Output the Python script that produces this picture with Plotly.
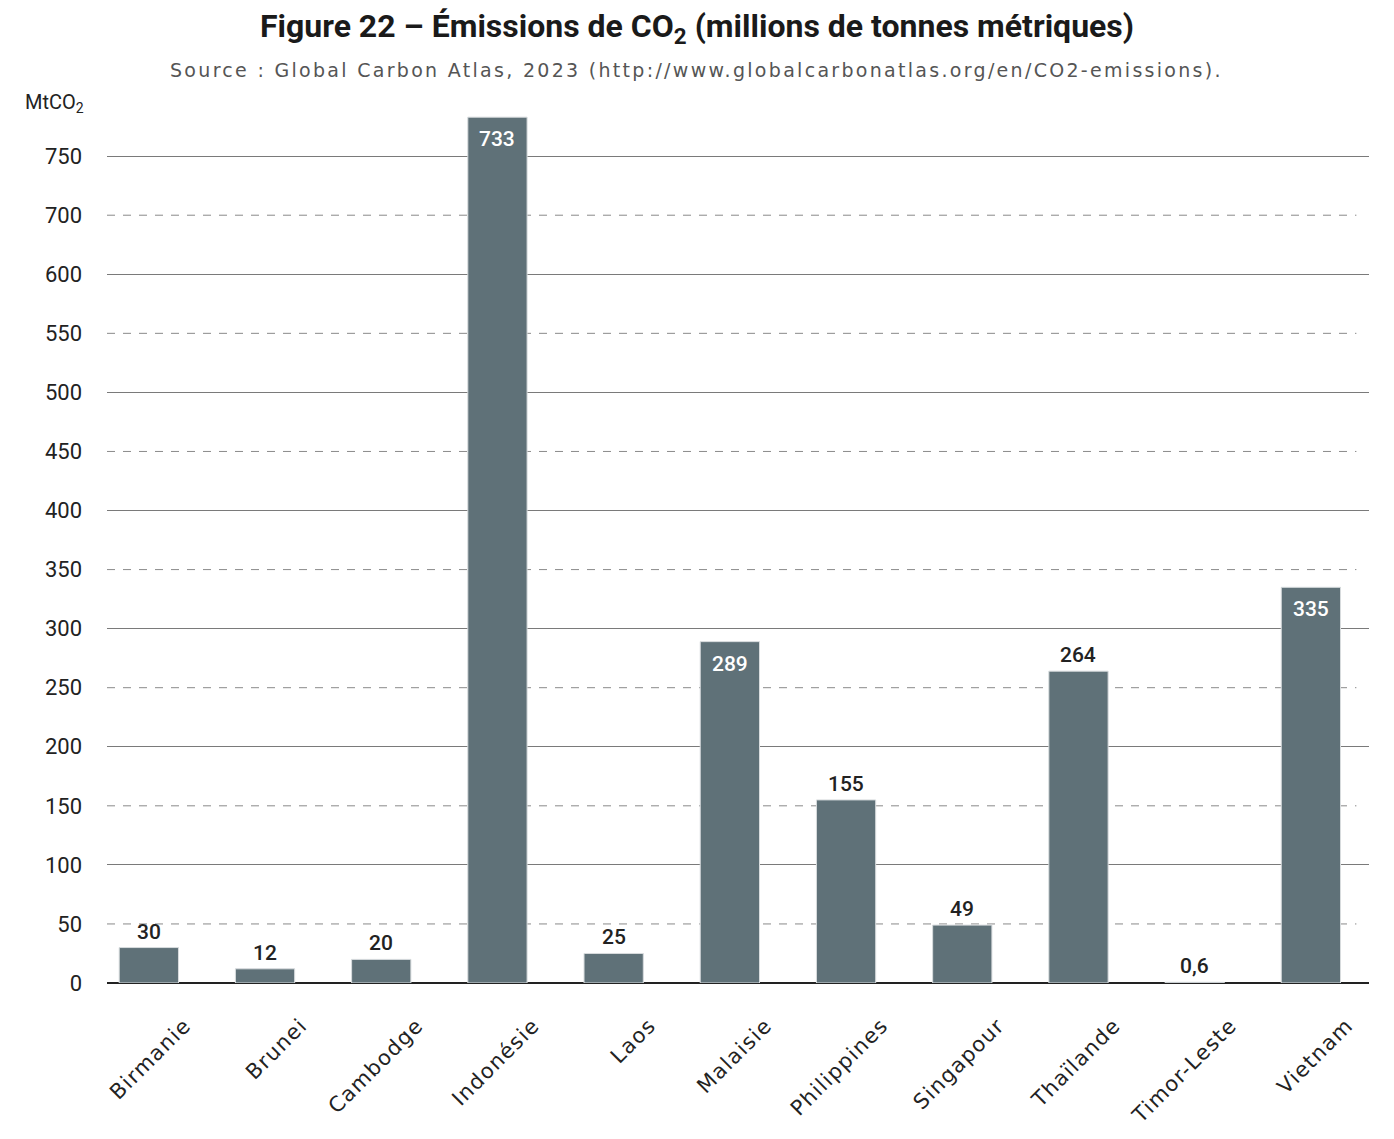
import plotly.graph_objects as go

countries = ["Birmanie", "Brunei", "Cambodge", "Indonésie", "Laos", "Malaisie",
             "Philippines", "Singapour", "Thaïlande", "Timor-Leste", "Vietnam"]
emissions = [30, 12, 20, 733, 25, 289, 155, 49, 264, 0.6, 335]
inside_label = [False, False, False, True, False, True,
                False, False, False, False, True]

# tick labels as printed on the original (the two top ones are shifted)
tick_vals = list(range(0, 701, 50))
tick_text = ["0", "50", "100", "150", "200", "250", "300", "350", "400",
             "450", "500", "550", "600", "700", "750"]
solid_grid = list(range(100, 701, 100))
dashed_grid = list(range(50, 651, 100))

narrow = "Roboto, Liberation Sans, sans-serif"
wide = "DejaVu Sans, sans-serif"
bar_color = "#5f7178"

fig = go.Figure(go.Bar(
    x=countries, y=emissions,
    marker=dict(color=bar_color, line=dict(color="#d8dcde", width=1)),
    width=0.51,
    hoverinfo="x+y",
))

# value labels, white inside the tall bars, dark above the others
for c, v, inside in zip(countries, emissions, inside_label):
    fig.add_annotation(
        x=c, y=v, text=str(v).replace(".", ","), showarrow=False,
        yanchor="middle", yshift=-22 if inside else 16,
        font=dict(family=narrow, size=21, weight=500,
                  color="white" if inside else "#222"))

for v in dashed_grid:
    fig.add_shape(type="line", xref="paper", yref="y", x0=0, x1=0.99, y0=v, y1=v,
                  line=dict(color="#8a8a8a", width=1, dash="8px,8px"), layer="below")

# subtitle centred on the page, not on the plot area
fig.add_annotation(
    text='<span style="letter-spacing:2.3px">Source : Global Carbon Atlas, 2023 '
         '(http://www.globalcarbonatlas.org/en/CO2-emissions).</span>',
    xref="paper", yref="paper", x=0.4675, xanchor="center", y=1.0375, yanchor="middle",
    showarrow=False, font=dict(family=wide, size=19, color="#555"))
fig.add_annotation(
    text="MtCO<sub>2</sub>", xref="paper", yref="paper",
    x=-0.017, xanchor="right", y=1.0, yanchor="middle",
    showarrow=False, font=dict(family=narrow, size=20, color="#222"))

fig.update_layout(
    width=1378, height=1123,
    margin=dict(l=99, r=17, t=95, b=148),
    plot_bgcolor="white", paper_bgcolor="white",
    showlegend=False,
    title=dict(text="<b>Figure 22 – Émissions de CO<sub>2</sub> (millions de tonnes métriques)</b>",
               x=0.5, xanchor="center", yref="container", y=0.984, yanchor="middle",
               font=dict(family=narrow, size=32, color="#1a1a1a")),
)

fig.update_xaxes(range=[-0.36, 10.5], showgrid=False, tickangle=-45,
                 tickvals=countries,
                 ticktext=['<span style="letter-spacing:1.3px">%s</span>' % c for c in countries],
                 tickfont=dict(family=wide, size=21, color="#222"),
                 ticks="", showline=False, automargin=False,
                 ticklabelstandoff=25, ticklabelshift=36)
fig.update_yaxes(range=[0, 745], tickvals=tick_vals, ticktext=tick_text,
                 showgrid=False, zeroline=True, zerolinecolor="#222", zerolinewidth=1.5,
                 ticks="", ticklabelstandoff=24, automargin=False,
                 tickfont=dict(family=narrow, size=22, color="#222"),
                 minor=dict(tickvals=solid_grid, showgrid=True, gridcolor="#7a7a7a",
                            gridwidth=1, ticks=""))

fig.write_html("out.html")
